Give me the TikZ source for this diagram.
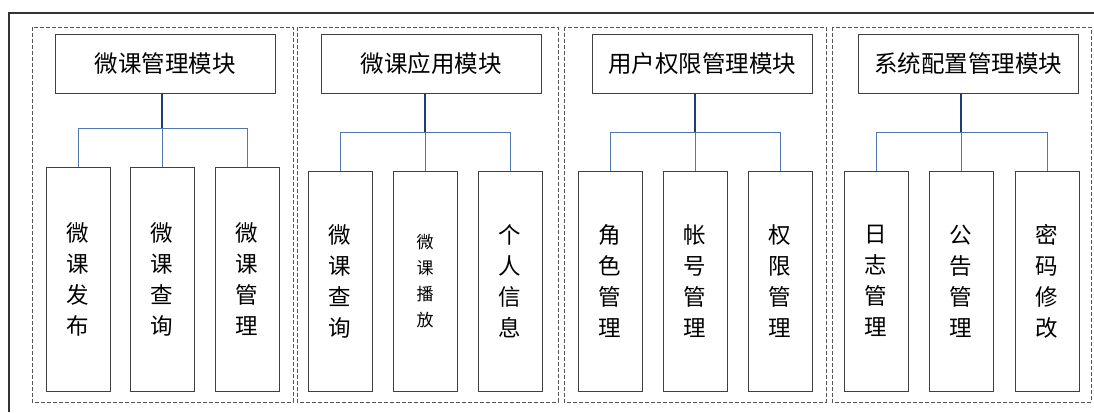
\documentclass[tikz,border=0pt]{standalone}
\usepackage{fontspec}
\newfontfamily\cjk{Noto Sans CJK SC}
\usepackage{tikz}
\usetikzlibrary{positioning, calc}
\definecolor{FrameGray}{HTML}{333333}
\definecolor{BoxGray}{HTML}{404040}
\definecolor{DashGray}{HTML}{555555}
\definecolor{LinkBlue}{HTML}{5276B0}
\definecolor{StemBlue}{HTML}{1F3C74}

\begin{document}
\begin{tikzpicture}[
  x=1pt, y=-1pt,
  groupbox/.style={draw=DashGray, dashed, dash pattern=on 4pt off 2pt, line width=0.9pt},
  headbox/.style={draw=BoxGray, line width=0.9pt, minimum width=220pt, minimum height=59pt, inner sep=0pt, font=\cjk\fontsize{23.5}{26}\selectfont},
  leafbox/.style={draw=BoxGray, line width=0.9pt, minimum width=64pt, minimum height=220pt, inner sep=0pt, align=center, font=\cjk\fontsize{22.5}{31}\selectfont},
  stemline/.style={StemBlue, line width=1.1pt},
  linkline/.style={LinkBlue, line width=0.9pt}
  ]
  \useasboundingbox (0,0) rectangle (1094,412);
  % outer frame
  \coordinate (fbl) at (9,412);
  \coordinate (ftr) at (1094,13);
  \draw[FrameGray, line width=1.2pt] (fbl) |- (ftr);
  % groups
  \draw[groupbox] (32,27) rectangle (293,402);
  \draw[groupbox] (297,27) rectangle (558,402);
  \draw[groupbox] (564,27) rectangle (826,402);
  \draw[groupbox] (832,27) rectangle (1091,402);
  % Module 1
  \node[headbox] (m1) at (165,63.5) {微课管理模块};
  \node[leafbox, minimum height=224pt] (m1a) at (78,279) {微\\课\\发\\布};
  \node[leafbox, minimum height=224pt] (m1b) at (162,279) {微\\课\\查\\询};
  \node[leafbox, minimum height=224pt] (m1c) at (247,279) {微\\课\\管\\理};
  % Module 2
  \node[headbox] (m2) at (431,63.5) {微课应用模块};
  \node[leafbox] (m2a) at (340,281) {微\\课\\查\\询};
  \node[leafbox, font=\cjk\fontsize{17}{26}\selectfont] (m2b) at (425,281) {微\\课\\播\\放};
  \node[leafbox] (m2c) at (510,281) {个\\人\\信\\息};
  % Module 3
  \node[headbox] (m3) at (702,63.5) {用户权限管理模块};
  \node[leafbox] (m3a) at (610,281) {角\\色\\管\\理};
  \node[leafbox] (m3b) at (695,281) {帐\\号\\管\\理};
  \node[leafbox] (m3c) at (780,281) {权\\限\\管\\理};
  % Module 4
  \node[headbox] (m4) at (968,63.5) {系统配置管理模块};
  \node[leafbox] (m4a) at (876,281) {日\\志\\管\\理};
  \node[leafbox] (m4b) at (961,281) {公\\告\\管\\理};
  \node[leafbox] (m4c) at (1047,281) {密\\码\\修\\改};
  % Links
  \draw[stemline] (m1.south -| m1b) -- ++(0,35);
  \draw[linkline] (m1.south -| m1b) ++(0,35) -| (m1a.north);
  \draw[linkline] (m1.south -| m1b) ++(0,35) -| (m1c.north);
  \draw[linkline] (m1.south -| m1b) ++(0,35) -- (m1b.north);
  \draw[stemline] (m2.south -| m2b) -- ++(0,39);
  \draw[linkline] (m2.south -| m2b) ++(0,39) -| (m2a.north);
  \draw[linkline] (m2.south -| m2b) ++(0,39) -| (m2c.north);
  \draw[linkline] (m2.south -| m2b) ++(0,39) -- (m2b.north);
  \draw[stemline] (m3.south -| m3b) -- ++(0,39);
  \draw[linkline] (m3.south -| m3b) ++(0,39) -| (m3a.north);
  \draw[linkline] (m3.south -| m3b) ++(0,39) -| (m3c.north);
  \draw[linkline] (m3.south -| m3b) ++(0,39) -- (m3b.north);
  \draw[stemline] (m4.south -| m4b) -- ++(0,39);
  \draw[linkline] (m4.south -| m4b) ++(0,39) -| (m4a.north);
  \draw[linkline] (m4.south -| m4b) ++(0,39) -| (m4c.north);
  \draw[linkline] (m4.south -| m4b) ++(0,39) -- (m4b.north);
\end{tikzpicture}
\end{document}
